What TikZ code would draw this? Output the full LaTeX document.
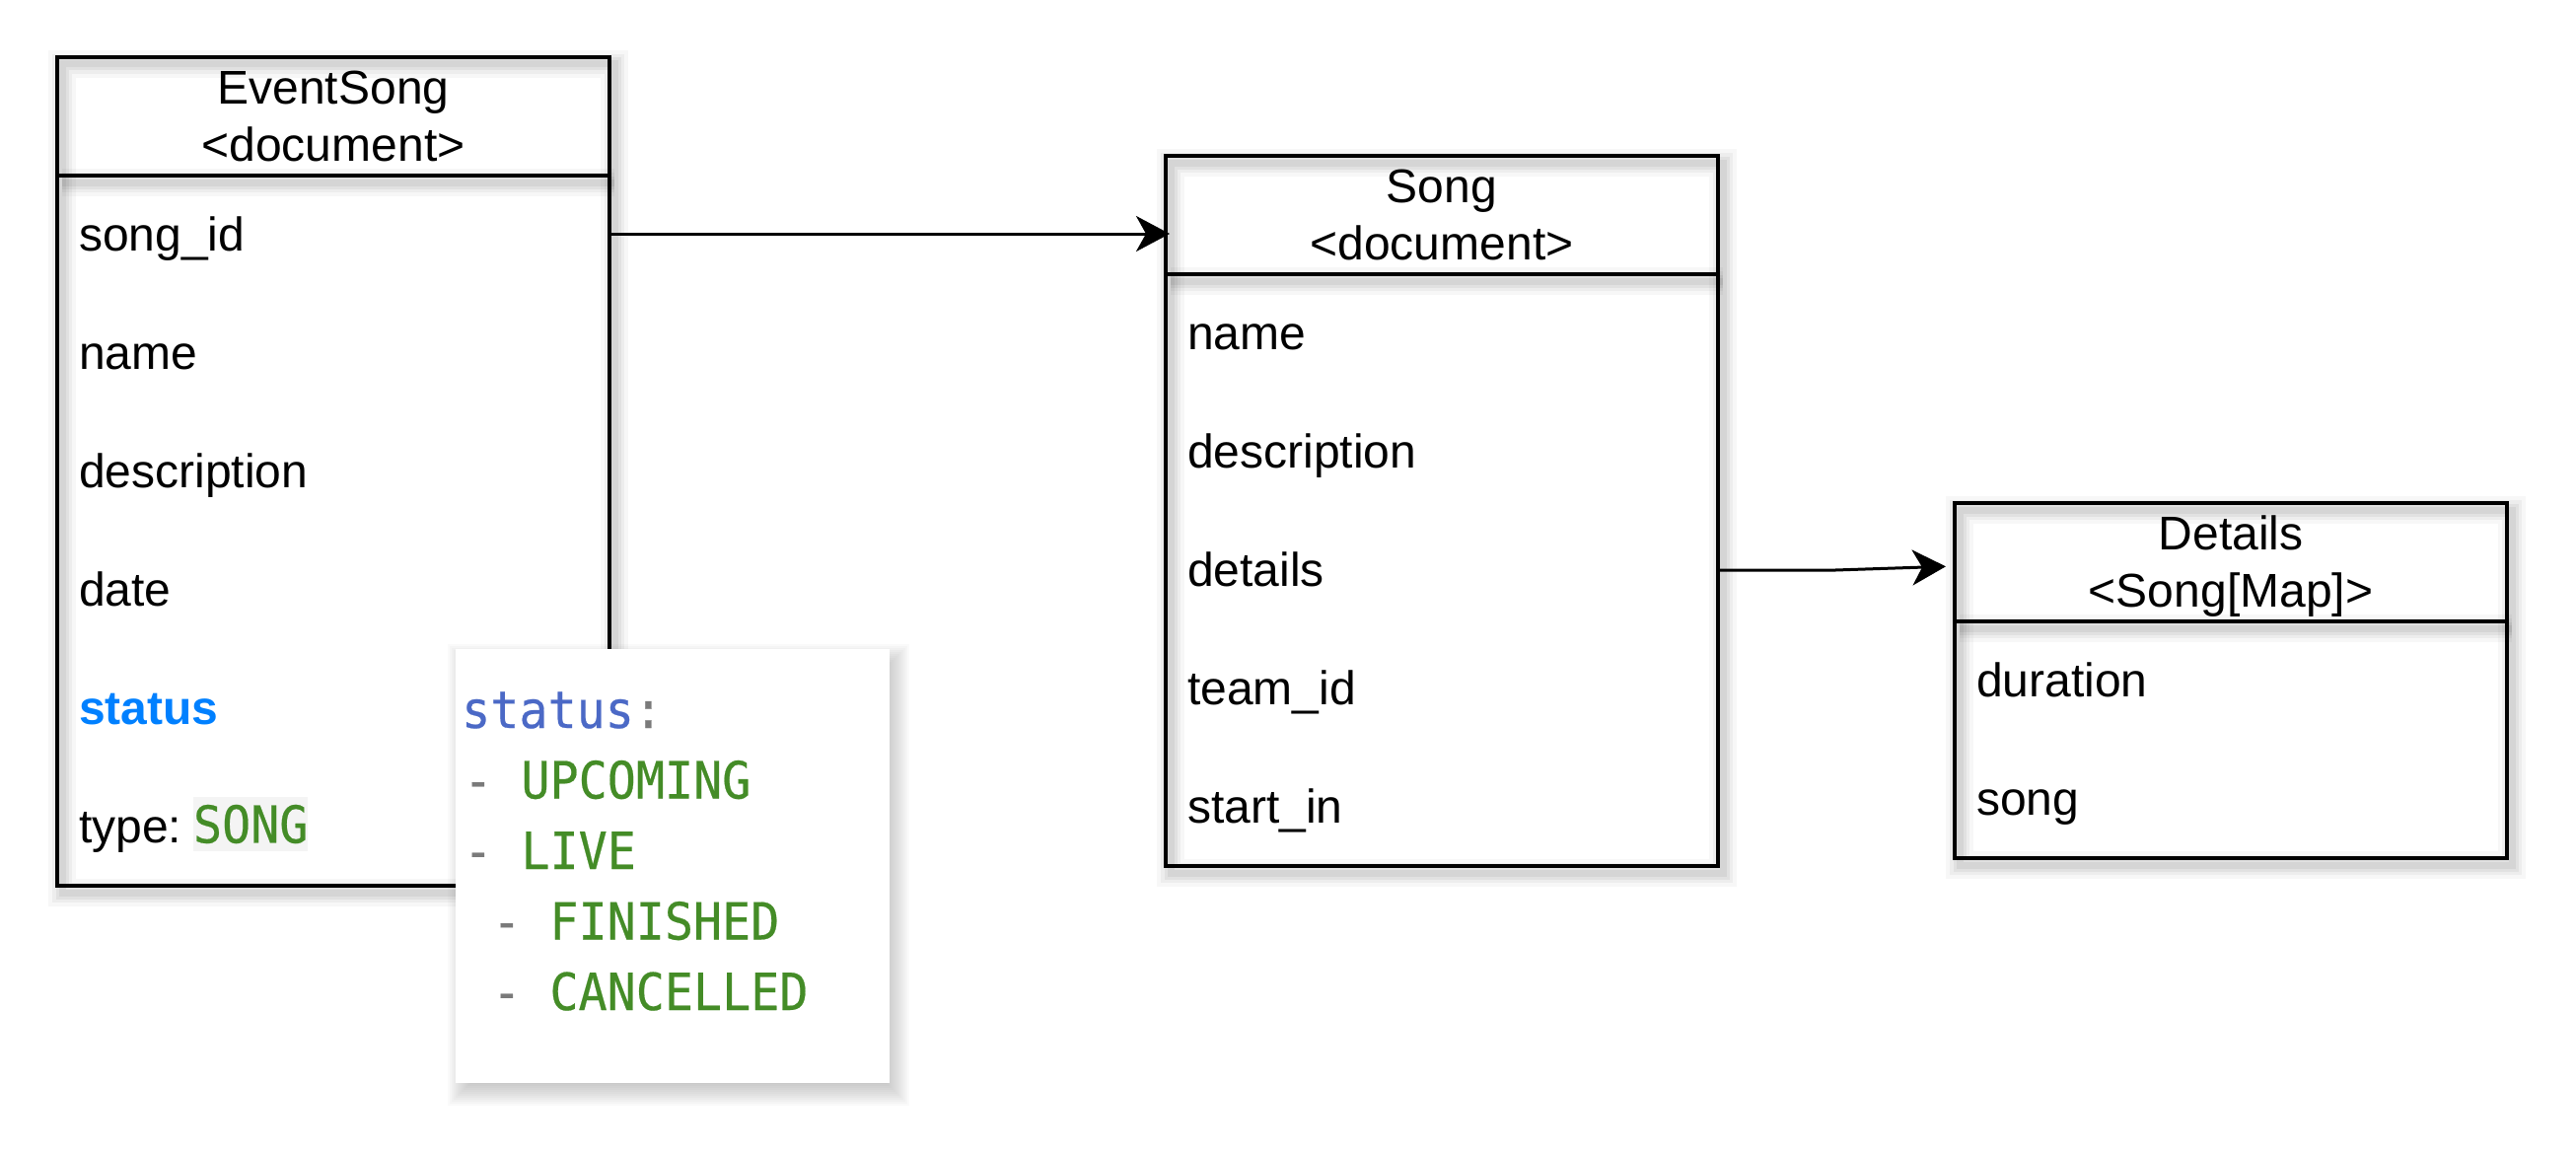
\documentclass[tikz,border=0pt]{standalone}
\usepackage{fontspec}
\setmainfont{Liberation Sans}
\newfontfamily\codefont[FakeStretch=0.93,FakeBold=0.4]{DejaVu Sans Mono}
\usetikzlibrary{arrows.meta,calc}
\definecolor{keyblue}{HTML}{4B69C6}
\definecolor{valgreen}{HTML}{448C27}
\definecolor{dashgray}{HTML}{7A7A7A}
\definecolor{statusblue}{HTML}{0080FF}
\definecolor{codebg}{HTML}{F4F4F4}
\pgfdeclarelayer{bg}
\pgfsetlayers{bg,main}
\begin{document}
\begin{tikzpicture}[x=1pt,y=-1pt,
  hdr/.style={draw=black, line width=4pt, minimum width=560pt, minimum height=120pt,
    inner sep=0pt, outer sep=0pt, anchor=north west},
  bodybox/.style={draw=black, line width=4pt, minimum width=560pt,
    inner sep=0pt, outer sep=0pt, anchor=north west},
  hdrtxt/.style={anchor=base, inner sep=0pt, font=\fontsize{48}{57.6}\selectfont},
  rowtxt/.style={anchor=base west, inner sep=0pt, font=\fontsize{48}{57.6}\selectfont},
  codetxt/.style={anchor=base west, inner sep=0pt, font=\codefont\fontsize{52}{62}\selectfont},
  popup/.style={fill=white, minimum width=440pt, minimum height=440pt,
    inner sep=0pt, outer sep=0pt, anchor=north west},
  conn/.style={line width=3pt, -{Stealth[length=34pt,width=36pt,inset=10pt]}}
]
\useasboundingbox (0,0) rectangle (2612,1172);

% ---------- EventSong ----------
\node[hdr] (esh) at (58,58) {};
\node[bodybox, minimum height=720pt] (esb) at (58,178) {};
\node[hdrtxt] (est1) at (338,105.8) {EventSong};
\node[hdrtxt] (est2) at (338,163.4) {<document>};
\node[rowtxt] (es1) at (80,254) {song\_id};
\node[rowtxt] (es2) at (80,374) {name};
\node[rowtxt] (es3) at (80,494) {description};
\node[rowtxt] (es4) at (80,614) {date};
\node[rowtxt, text=statusblue, font=\bfseries\fontsize{48}{57.6}\selectfont] (es5) at (80,734) {status};
\node[rowtxt] (es6) at (80,854) {type:};
\node[fill=codebg, minimum width=116pt, minimum height=55pt, inner sep=0pt, outer sep=0pt,
  anchor=north west, text=valgreen, font=\codefont\fontsize{52}{62}\selectfont] (sngval) at (196,808) {SONG};

% ---------- Song ----------
\node[hdr] (sh) at (1182,158) {};
\node[bodybox, minimum height=600pt] (sb) at (1182,278) {};
\node[hdrtxt] (st1) at (1462,205.8) {Song};
\node[hdrtxt] (st2) at (1462,263.4) {<document>};
\node[rowtxt] (s1) at (1204,354.6) {name};
\node[rowtxt] (s2) at (1204,474.6) {description};
\node[rowtxt] (s3) at (1204,594.6) {details};
\node[rowtxt] (s4) at (1204,714.6) {team\_id};
\node[rowtxt] (s5) at (1204,834.6) {start\_in};

% ---------- Details ----------
\node[hdr] (dh) at (1982,510) {};
\node[bodybox, minimum height=240pt] (db) at (1982,630) {};
\node[hdrtxt] (dt1) at (2262,557.8) {Details};
\node[hdrtxt] (dt2) at (2262,615.4) {<Song[Map]>};
\node[rowtxt] (d1) at (2004,706.6) {duration};
\node[rowtxt] (d2) at (2004,826.6) {song};

% ---------- status popup ----------
\node[popup] (pop) at (462,658) {};
\node[codetxt] (p1) at (468,738) {\textcolor{keyblue}{status}\textcolor{dashgray}{:}};
\node[codetxt] (p2) at (470,809.5) {\textcolor{dashgray}{-}\ \textcolor{valgreen}{UPCOMING}};
\node[codetxt] (p3) at (470,881) {\textcolor{dashgray}{-}\ \textcolor{valgreen}{LIVE}};
\node[codetxt] (p4) at (499,952.5) {\textcolor{dashgray}{-}\ \textcolor{valgreen}{FINISHED}};
\node[codetxt] (p5) at (499,1024) {\textcolor{dashgray}{-}\ \textcolor{valgreen}{CANCELLED}};

% ---------- connectors ----------
\coordinate (a1) at ([yshift=-59pt]esb.north east);
\draw[conn, shorten >=-4pt] (a1) -- (a1 -| sh.west);
\coordinate (a2) at ([yshift=-300pt]sb.north east);
\draw[conn, shorten >=9pt] (a2) -- ++(119,0) -- ([yshift=-4pt]dh.west);

% ---------- shadows ----------
\begin{pgfonlayer}{bg}
  \foreach \w/\o in {28/0.03,20/0.04,13/0.05,7/0.055} {
    \draw[line width=\w pt, black, opacity=\o]
      ($(esh.north west)+(5,7)$) rectangle ($(esb.south east)+(5,7)$);
    \draw[line width=\w pt, black, opacity=\o]
      ($(esh.south west)+(5,7)$) -- ($(esh.south east)+(5,7)$);
    \draw[line width=\w pt, black, opacity=\o]
      ($(sh.north west)+(5,7)$) rectangle ($(sb.south east)+(5,7)$);
    \draw[line width=\w pt, black, opacity=\o]
      ($(sh.south west)+(5,7)$) -- ($(sh.south east)+(5,7)$);
    \draw[line width=\w pt, black, opacity=\o]
      ($(dh.north west)+(5,7)$) rectangle ($(db.south east)+(5,7)$);
    \draw[line width=\w pt, black, opacity=\o]
      ($(dh.south west)+(5,7)$) -- ($(dh.south east)+(5,7)$);
  }
  \foreach \i in {0,...,13} {
    \fill[black, opacity=0.018]
      ($(pop.north west)+(6-14+2*\i,9-14+2*\i)$) rectangle ($(pop.south east)+(6+14-2*\i,9+14-2*\i)$);
  }
\end{pgfonlayer}
\end{tikzpicture}
\end{document}
